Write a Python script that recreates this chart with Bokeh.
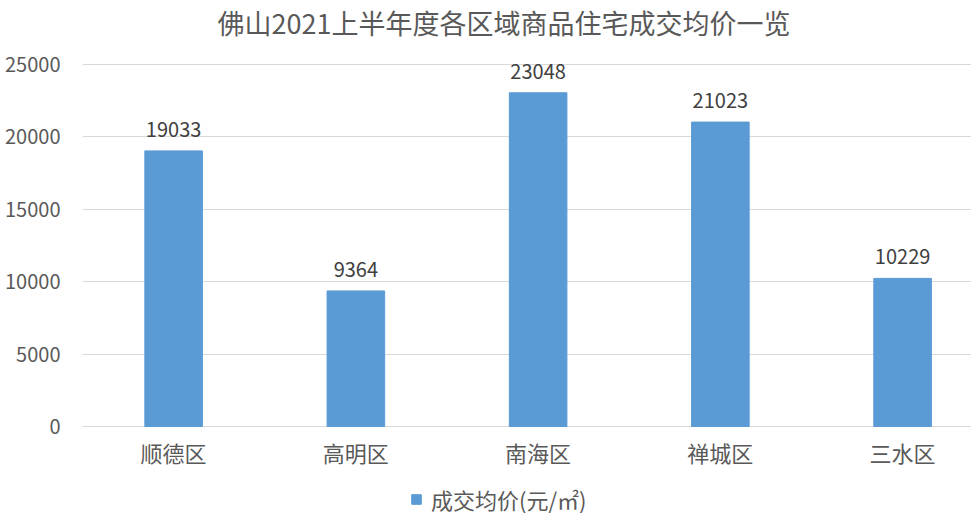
from bokeh.plotting import figure
from bokeh.models import (Range1d, FixedTicker, ColumnDataSource, LabelSet, Legend, LegendItem, Label)
from bokeh.core.properties import value
from bokeh.embed import file_html
from bokeh.resources import INLINE

title_text = "佛山2021上半年度各区域商品住宅成交均价一览"
categories = ["顺德区", "高明区", "南海区", "禅城区", "三水区"]
prices = [19033, 9364, 23048, 21023, 10229]
y_ticks = [0, 5000, 10000, 15000, 20000, 25000]
series_name = "成交均价(元/㎡)"

FONT = "Noto Sans CJK SC"
BAR = "#5b9bd5"

# frame spans the whole height: 64px above 25000 (title room), 362px to 0, 89px below
Y_MAX = 25000
PX_PER_UNIT = 362 / Y_MAX
Y_TOP = Y_MAX + 64 / PX_PER_UNIT
Y_BOTTOM = -89 / PX_PER_UNIT

xs = list(range(len(categories)))
src = ColumnDataSource(dict(x=xs, y=prices, lab=[str(v) for v in prices]))

p = figure(width=971, height=515, output_backend="svg", toolbar_location=None, title=None,
           x_range=Range1d(-0.5, 4.378), y_range=Range1d(Y_BOTTOM, Y_TOP),
           min_border_left=82, min_border_right=0, min_border_top=0, min_border_bottom=0)

title = Label(x=421.5, y=493, x_units="screen", y_units="screen", text=title_text,
              text_align="center", text_baseline="middle", text_font=FONT,
              text_font_size="27px", text_color="#595959")
p.add_layout(title)

r = p.vbar(x="x", top="y", width=0.316, source=src, color=BAR)

p.xaxis.ticker = FixedTicker(ticks=xs)
p.xaxis.major_label_overrides = {i: c for i, c in enumerate(categories)}
p.xaxis.fixed_location = 0
p.yaxis.ticker = FixedTicker(ticks=y_ticks)
for ax in (p.xaxis, p.yaxis):
    ax.axis_line_color = None
    ax.major_tick_line_color = None
    ax.minor_tick_line_color = None
    ax.major_label_text_font = FONT
    ax.major_label_text_color = "#595959"
p.xaxis.major_label_text_font_size = "22px"
p.yaxis.major_label_text_font_size = "20px"
p.xaxis.major_label_standoff = 3
p.yaxis.major_label_standoff = 16

p.xgrid.grid_line_color = None
p.ygrid.grid_line_color = "#d9d9d9"
p.ygrid.grid_line_width = 1
p.outline_line_color = None

labels = LabelSet(x="x", y="y", text="lab", source=src, text_align="center",
                  text_baseline="bottom", y_offset=14, text_font_size="20px",
                  text_color="#404040", text_font=value(FONT))
p.add_layout(labels)

legend = Legend(items=[LegendItem(label=series_name, renderers=[r])],
                orientation="horizontal", location=(328, 0),
                label_text_font=FONT, label_text_font_size="22px",
                label_text_color="#595959", glyph_width=12, glyph_height=12,
                border_line_color=None, background_fill_alpha=0, spacing=0,
                label_standoff=9, margin=0, padding=2)
p.add_layout(legend)

open("out.html", "w").write(file_html(p, INLINE))
